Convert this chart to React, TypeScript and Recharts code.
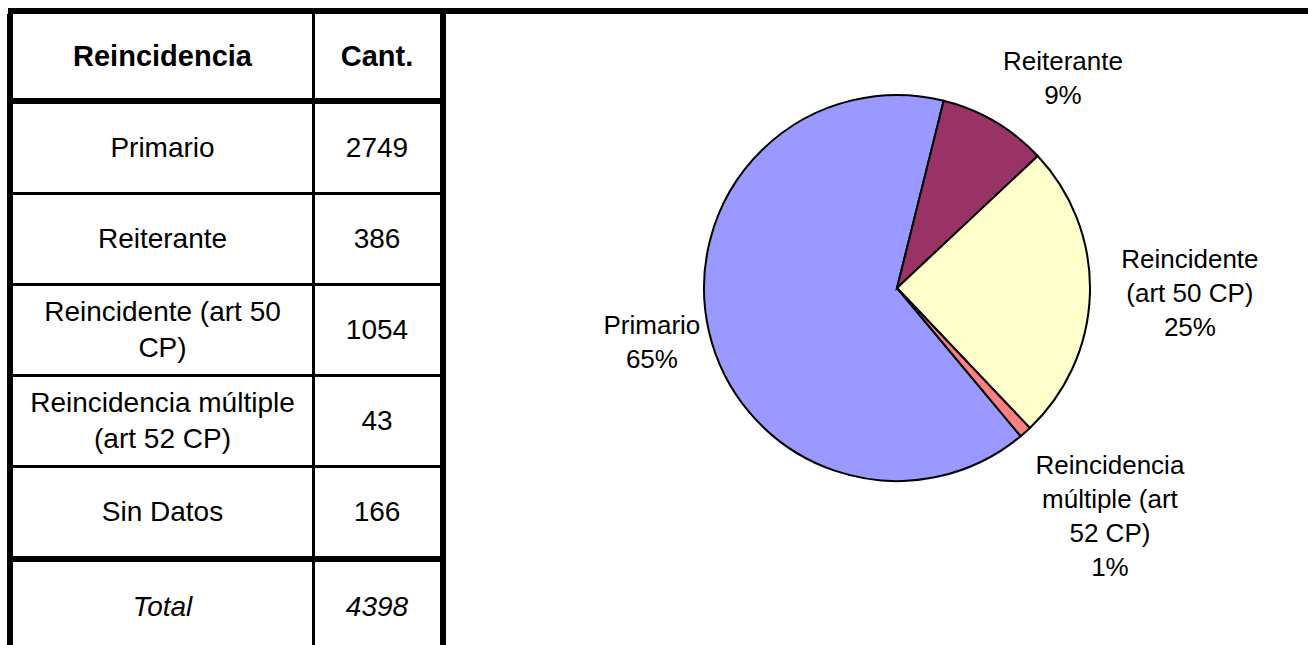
import React from "react";
import { Cell, Pie, PieChart } from "recharts";

// rows of the table (Sin Datos is left out of the pie)
const categories = [
  "Primario",
  "Reiterante",
  "Reincidente (art 50 CP)",
  "Reincidencia múltiple (art 52 CP)",
  "Sin Datos",
];
const counts = [2749, 386, 1054, 43, 166];
const pieCount = 4;

// how the pie labels wrap
const pieLabelLines = [
  ["Primario"],
  ["Reiterante"],
  ["Reincidente", "(art 50 CP)"],
  ["Reincidencia", "múltiple (art", "52 CP)"],
];

const colors = ["#9999FF", "#993366", "#FFFFCC", "#FF8080"];

// small per-label shifts, like Excel puts them
const labelNudge = [
  { dx: -18, dy: 2 },
  { dx: 48, dy: -9 },
  { dx: 60, dy: -2 },
  { dx: 58, dy: 54 },
];

const font = '"Liberation Sans", Arial, sans-serif';
const RADIAN = Math.PI / 180;

const pieData = categories.slice(0, pieCount).map((name, i) => ({
  name,
  value: counts[i],
}));
const total = counts.reduce((a, b) => a + b, 0);

const renderLabel = (props: any) => {
  const { cx, cy, midAngle, outerRadius, percent, index } = props;
  const r = outerRadius + 40;
  const x = cx + r * Math.cos(-midAngle * RADIAN) + labelNudge[index].dx;
  const y = cy + r * Math.sin(-midAngle * RADIAN) + labelNudge[index].dy;
  const lines = [...pieLabelLines[index], `${Math.round(percent * 100)}%`];
  const lh = 34;
  const top = y - ((lines.length - 1) * lh) / 2;
  return (
    <text
      x={x}
      y={top}
      textAnchor="middle"
      fontSize={26}
      fontFamily={font}
      fill="#000"
    >
      {lines.map((l, i) => (
        <tspan key={i} x={x} y={top + i * lh + 9}>
          {l}
        </tspan>
      ))}
    </text>
  );
};

const cellStyle = (w: number): React.CSSProperties => ({
  width: w,
  display: "flex",
  alignItems: "center",
  justifyContent: "center",
  textAlign: "center",
});

function Row({
  a,
  b,
  h,
  border,
  bold,
  italic,
}: {
  a: string;
  b: string | number;
  h: number;
  border: number;
  bold?: boolean;
  italic?: boolean;
}) {
  return (
    <div
      style={{
        display: "flex",
        height: h,
        borderBottom: border ? `${border}px solid #000` : "none",
        fontWeight: bold ? "bold" : "normal",
        fontStyle: italic ? "italic" : "normal",
        fontSize: bold ? 29 : 28,
      }}
    >
      <div style={{ ...cellStyle(299), borderRight: "3px solid #000" }}>
        <span style={{ width: 280, lineHeight: "36px" }}>{a}</span>
      </div>
      <div style={cellStyle(124)}>{b}</div>
    </div>
  );
}

export default function App() {
  return (
    <div
      style={{
        position: "fixed",
        left: 0,
        top: 0,
        width: 1308,
        height: 645,
        overflow: "hidden",
        background: "#fff",
        fontFamily: font,
        fontSize: 28,
        color: "#000",
      }}
    >
      {/* top rule across the whole width */}
      <div
        style={{
          position: "absolute",
          left: 8,
          top: 8,
          width: 1300,
          height: 6,
          background: "#000",
        }}
      />
      <div
        style={{
          position: "absolute",
          left: 7,
          top: 14,
          width: 427,
          height: 660,
          borderLeft: "6px solid #000",
          borderRight: "6px solid #000",
        }}
      >
        <Row a="Reincidencia" b="Cant." h={84} border={6} bold />
        {categories.map((c, i) => (
          <Row
            key={c}
            a={c}
            b={counts[i]}
            h={88}
            border={i === categories.length - 1 ? 6 : 3}
          />
        ))}
        <Row a="Total" b={total} h={90} border={0} italic />
      </div>
      <div style={{ position: "absolute", left: 446, top: 14 }}>
        <PieChart width={862} height={631}>
          <Pie
            data={pieData}
            dataKey="value"
            nameKey="name"
            cx={446}
            cy={269}
            outerRadius={193}
            startAngle={-50.15}
            endAngle={-410.15}
            stroke="#000"
            strokeWidth={2}
            labelLine={false}
            label={renderLabel}
            isAnimationActive={false}
          >
            {pieData.map((d, i) => (
              <Cell key={d.name} fill={colors[i]} />
            ))}
          </Pie>
        </PieChart>
      </div>
    </div>
  );
}
